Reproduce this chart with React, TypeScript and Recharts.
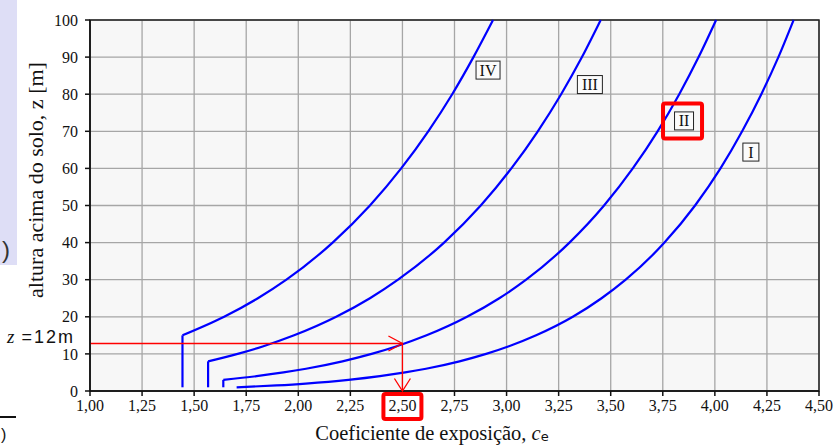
import React from 'react';
import {
  LineChart, Line, XAxis, YAxis, CartesianGrid, ReferenceDot, ReferenceArea, Label,
} from 'recharts';

// exposure coefficient curves (height z [m] -> c_e)
const zIV = [15, 20, 25, 30, 40, 50, 60, 70, 80, 90, 100];
const ceIV = [1.444, 1.644, 1.806, 1.943, 2.165, 2.344, 2.494, 2.624, 2.739, 2.841, 2.935];
const zIII = [8, 10, 12, 15, 20, 25, 30, 40, 50, 60, 70, 80, 90, 100];
const ceIII = [1.567, 1.709, 1.829, 1.98, 2.182, 2.344, 2.479, 2.7, 2.876, 3.023, 3.15, 3.262, 3.362, 3.452];
const zII = [3, 4, 5, 6, 8, 10, 12, 15, 20, 25, 30, 40, 50, 60, 70, 80, 90, 100];
const ceII = [1.64, 1.8, 1.929, 2.037, 2.212, 2.352, 2.469, 2.616, 2.81, 2.965, 3.094, 3.302, 3.468, 3.606, 3.725, 3.829, 3.922, 4.006];
const zI = [1, 1.5, 2, 3, 4, 5, 6, 8, 10, 15, 20, 25, 30, 40, 50, 60, 70, 80, 90, 100];
const ceI = [1.704, 1.895, 2.036, 2.241, 2.392, 2.513, 2.613, 2.774, 2.902, 3.142, 3.318, 3.456, 3.572, 3.758, 3.905, 4.027, 4.131, 4.223, 4.305, 4.378];

// constant part below z_min
const stemZ = [1, 15, 1, 8, 1, 3];
const stemCe = [1.444, 1.444, 1.567, 1.567, 1.64, 1.64];

const categoryNames = ['IV', 'III', 'II', 'I'];
const labelCe = [2.911, 3.4, 3.852, 4.173];
const labelZ = [86.5, 82.6, 72.8, 64.4];

const xTicks = [1, 1.25, 1.5, 1.75, 2, 2.25, 2.5, 2.75, 3, 3.25, 3.5, 3.75, 4, 4.25, 4.5];
const yTicks = [0, 10, 20, 30, 40, 50, 60, 70, 80, 90, 100];

// reading path: z = 12 m  ->  c_e = 2,50
const readPathCe = [1, 2.5, 2.5];
const readPathZ = [12.8, 12.8, 0];

const toRows = (zs: number[], ces: number[]) => zs.map((z, i) => ({ ce: ces[i], z }));
const curves = [toRows(zIV, ceIV), toRows(zIII, ceIII), toRows(zII, ceII), toRows(zI, ceI)];
const stems = [0, 2, 4].map(i => toRows(stemZ.slice(i, i + 2), stemCe.slice(i, i + 2)));
const readPath = toRows(readPathZ, readPathCe);

const fmt = (v: number) => v.toFixed(2).replace('.', ',');
const FONT = '"Liberation Serif", serif';
const RED = '#ff0000';

// eslint-disable-next-line @typescript-eslint/no-explicit-any
function XTick({ x, y, payload }: any) {
  const hit = payload.value === readPathCe[1];
  return (
    <g>
      {hit && <rect x={x - 19} y={y - 6} width={38} height={25} fill="none" stroke={RED} strokeWidth={4} rx={2} />}
      <text x={x} y={y} dy="0.71em" textAnchor="middle" fontSize={16} fill="#111" fontFamily={FONT}>
        {fmt(payload.value)}
      </text>
    </g>
  );
}

// open arrow head, dir = 'right' | 'down'
function headShape(dir: string) {
  // eslint-disable-next-line @typescript-eslint/no-explicit-any
  return function Head({ cx, cy }: any) {
    const pts = dir === 'right'
      ? `${cx - 14},${cy - 7.5} ${cx},${cy} ${cx - 14},${cy + 7.5}`
      : `${cx - 8},${cy - 12.5} ${cx},${cy} ${cx + 8},${cy - 12.5}`;
    return <polyline points={pts} fill="none" stroke={RED} strokeWidth={1.3} />;
  };
}

function CatLabel(name: string) {
  // eslint-disable-next-line @typescript-eslint/no-explicit-any
  return function Shape({ cx, cy }: any) {
    const w = name.length === 1 ? 16 : name.length === 2 ? (name === 'II' ? 19 : 24) : 25;
    return (
      <g>
        <rect x={cx - w / 2} y={cy - 9} width={w} height={18} fill="#fbfbfb" stroke="#222" strokeWidth={1} />
        <text x={cx} y={cy + 5.5} textAnchor="middle" fontSize={16} fontFamily={FONT} fill="#111">{name}</text>
        {name === 'II' && <rect x={cx - 21} y={cy - 17.5} width={39} height={35} fill="none" stroke={RED} strokeWidth={4} rx={2} />}
      </g>
    );
  };
}

export default function App() {
  return (
    <div style={{ position: 'absolute', left: 0, top: 0, width: 836, height: 446, background: '#fff', overflow: 'hidden' }}>
      <div style={{ position: 'absolute', left: 0, top: 0, width: 17, height: 265, background: '#dedef6' }} />
      <div style={{ position: 'absolute', left: 2, top: 236, fontFamily: '"Liberation Sans", sans-serif', fontSize: 24, color: '#333' }}>)</div>
      <div style={{ position: 'absolute', left: 0, top: 416, width: 16, height: 1.5, background: '#111' }} />
      <div style={{ position: 'absolute', left: 1, top: 426, fontFamily: '"Liberation Sans", sans-serif', fontSize: 16, color: '#111' }}>)</div>
      <LineChart width={836} height={446} margin={{ top: 20, right: 17, left: 30, bottom: 25 }} style={{ fontFamily: FONT, position: 'absolute', left: 0, top: 0 }}>
        <CartesianGrid stroke="#a6a6a6" strokeWidth={1.3} fill="#f7f7f7" />
        <XAxis
          type="number" dataKey="ce" domain={[1, 4.5]} ticks={xTicks} height={30} interval={0}
          stroke="#111" strokeWidth={1.5} tickSize={5} tickMargin={4} tick={<XTick />}
        >
          <Label
            content={() => (
              <text x={432} y={440} textAnchor="middle" fontSize={20.5} fontFamily={FONT} fill="#111">
                Coeficiente de exposição, <tspan fontStyle="italic">c</tspan>
                <tspan fontSize={13} dy={1} fontFamily='"DejaVu Sans", sans-serif'>e</tspan>
              </text>
            )}
          />
        </XAxis>
        <YAxis
          type="number" dataKey="z" domain={[0, 100]} ticks={yTicks} width={60} interval={0}
          stroke="#111" strokeWidth={1.5} tickSize={5} tickMargin={7}
          tick={{ fontSize: 16, fill: '#111', fontFamily: FONT }}
        >
          <Label
            content={() => (
              <text x={43} y={180} transform="rotate(-90 43 180)" textAnchor="middle" fontSize={22} fontFamily={FONT} fill="#111">
                altura acima do solo, z [m]
              </text>
            )}
          />
        </YAxis>
        <ReferenceArea x1={1} x2={4.5} y1={0} y2={100} fill="none" fillOpacity={0} stroke="#222" strokeWidth={1.5} />
        {stems.map((d, i) => (
          <Line key={`s${i}`} data={d} dataKey="z" type="linear" stroke="#0000ff" strokeWidth={2.2} dot={false} isAnimationActive={false} />
        ))}
        {curves.map((d, i) => (
          <Line key={`c${i}`} data={d} dataKey="z" type="monotoneX" stroke="#0000ff" strokeWidth={2.2} dot={false} isAnimationActive={false} />
        ))}
        <Line data={readPath} dataKey="z" type="linear" stroke={RED} strokeWidth={1.3} dot={false} isAnimationActive={false} />
        <ReferenceDot x={readPathCe[1]} y={readPathZ[1]} r={1} shape={headShape('right')} ifOverflow="visible" />
        <ReferenceDot x={readPathCe[2]} y={readPathZ[2]} r={1} shape={headShape('down')} ifOverflow="visible" />
        {categoryNames.map((n, i) => (
          <ReferenceDot key={n} x={labelCe[i]} y={labelZ[i]} r={1} shape={CatLabel(n)} ifOverflow="visible" />
        ))}
      </LineChart>
      <svg width={100} height={446} style={{ position: 'absolute', left: 0, top: 0, pointerEvents: 'none' }}>
        <text x={7} y={342.5} fontSize={18} fill="#111" fontFamily='"Liberation Sans", sans-serif' letterSpacing={2}>
          <tspan fontFamily={FONT} fontStyle="italic" fontSize={19} letterSpacing={0}>z</tspan> =12m
        </text>
      </svg>
    </div>
  );
}
